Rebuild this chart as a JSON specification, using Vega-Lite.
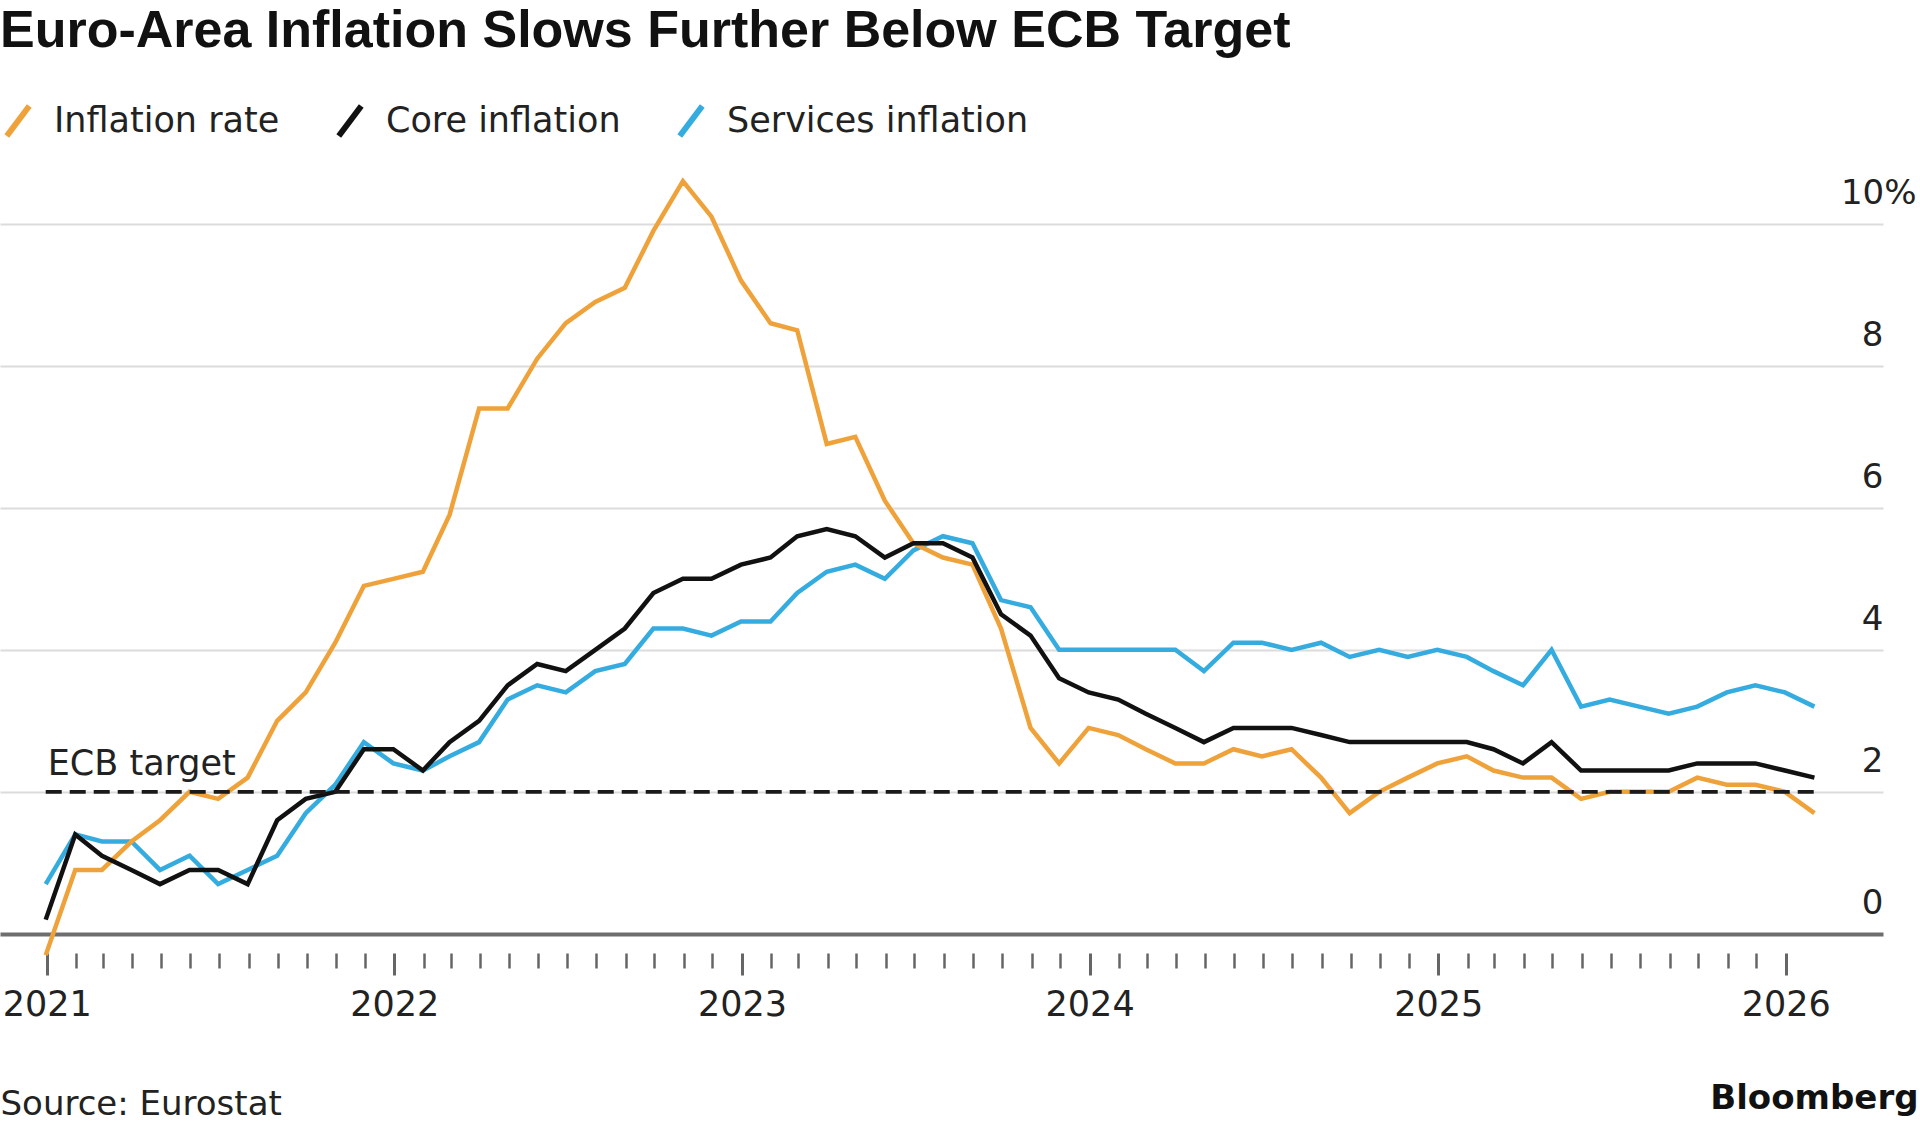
{
  "$schema": "https://vega.github.io/schema/vega-lite/v6.json",
  "width": 1883,
  "height": 786,
  "autosize": {"type": "none"},
  "padding": {"left": 0, "top": 167, "right": 37, "bottom": 173},
  "background": "white",
  "title": {
    "text": "Euro-Area Inflation Slows Further Below ECB Target",
    "anchor": "start",
    "frame": "group",
    "font": "Liberation Sans",
    "fontWeight": "bold",
    "fontSize": 52,
    "color": "#111111",
    "baseline": "alphabetic",
    "offset": 10,
    "dy": 6
  },
  "datasets": {
    "inflation": [
      {"date": "2020-12-31", "headline": -0.3, "core": 0.2, "services": 0.7},
      {"date": "2021-01-31", "headline": 0.9, "core": 1.4, "services": 1.4},
      {"date": "2021-02-28", "headline": 0.9, "core": 1.1, "services": 1.3},
      {"date": "2021-03-31", "headline": 1.3, "core": 0.9, "services": 1.3},
      {"date": "2021-04-30", "headline": 1.6, "core": 0.7, "services": 0.9},
      {"date": "2021-05-31", "headline": 2.0, "core": 0.9, "services": 1.1},
      {"date": "2021-06-30", "headline": 1.9, "core": 0.9, "services": 0.7},
      {"date": "2021-07-31", "headline": 2.2, "core": 0.7, "services": 0.9},
      {"date": "2021-08-31", "headline": 3.0, "core": 1.6, "services": 1.1},
      {"date": "2021-09-30", "headline": 3.4, "core": 1.9, "services": 1.7},
      {"date": "2021-10-31", "headline": 4.1, "core": 2.0, "services": 2.1},
      {"date": "2021-11-30", "headline": 4.9, "core": 2.6, "services": 2.7},
      {"date": "2021-12-31", "headline": 5.0, "core": 2.6, "services": 2.4},
      {"date": "2022-01-31", "headline": 5.1, "core": 2.3, "services": 2.3},
      {"date": "2022-02-28", "headline": 5.9, "core": 2.7, "services": 2.5},
      {"date": "2022-03-31", "headline": 7.4, "core": 3.0, "services": 2.7},
      {"date": "2022-04-30", "headline": 7.4, "core": 3.5, "services": 3.3},
      {"date": "2022-05-31", "headline": 8.1, "core": 3.8, "services": 3.5},
      {"date": "2022-06-30", "headline": 8.6, "core": 3.7, "services": 3.4},
      {"date": "2022-07-31", "headline": 8.9, "core": 4.0, "services": 3.7},
      {"date": "2022-08-31", "headline": 9.1, "core": 4.3, "services": 3.8},
      {"date": "2022-09-30", "headline": 9.9, "core": 4.8, "services": 4.3},
      {"date": "2022-10-31", "headline": 10.6, "core": 5.0, "services": 4.3},
      {"date": "2022-11-30", "headline": 10.1, "core": 5.0, "services": 4.2},
      {"date": "2022-12-31", "headline": 9.2, "core": 5.2, "services": 4.4},
      {"date": "2023-01-31", "headline": 8.6, "core": 5.3, "services": 4.4},
      {"date": "2023-02-28", "headline": 8.5, "core": 5.6, "services": 4.8},
      {"date": "2023-03-31", "headline": 6.9, "core": 5.7, "services": 5.1},
      {"date": "2023-04-30", "headline": 7.0, "core": 5.6, "services": 5.2},
      {"date": "2023-05-31", "headline": 6.1, "core": 5.3, "services": 5.0},
      {"date": "2023-06-30", "headline": 5.5, "core": 5.5, "services": 5.4},
      {"date": "2023-07-31", "headline": 5.3, "core": 5.5, "services": 5.6},
      {"date": "2023-08-31", "headline": 5.2, "core": 5.3, "services": 5.5},
      {"date": "2023-09-30", "headline": 4.3, "core": 4.5, "services": 4.7},
      {"date": "2023-10-31", "headline": 2.9, "core": 4.2, "services": 4.6},
      {"date": "2023-11-30", "headline": 2.4, "core": 3.6, "services": 4.0},
      {"date": "2023-12-31", "headline": 2.9, "core": 3.4, "services": 4.0},
      {"date": "2024-01-31", "headline": 2.8, "core": 3.3, "services": 4.0},
      {"date": "2024-02-29", "headline": 2.6, "core": 3.1, "services": 4.0},
      {"date": "2024-03-31", "headline": 2.4, "core": 2.9, "services": 4.0},
      {"date": "2024-04-30", "headline": 2.4, "core": 2.7, "services": 3.7},
      {"date": "2024-05-31", "headline": 2.6, "core": 2.9, "services": 4.1},
      {"date": "2024-06-30", "headline": 2.5, "core": 2.9, "services": 4.1},
      {"date": "2024-07-31", "headline": 2.6, "core": 2.9, "services": 4.0},
      {"date": "2024-08-31", "headline": 2.2, "core": 2.8, "services": 4.1},
      {"date": "2024-09-30", "headline": 1.7, "core": 2.7, "services": 3.9},
      {"date": "2024-10-31", "headline": 2.0, "core": 2.7, "services": 4.0},
      {"date": "2024-11-30", "headline": 2.2, "core": 2.7, "services": 3.9},
      {"date": "2024-12-31", "headline": 2.4, "core": 2.7, "services": 4.0},
      {"date": "2025-01-31", "headline": 2.5, "core": 2.7, "services": 3.9},
      {"date": "2025-02-28", "headline": 2.3, "core": 2.6, "services": 3.7},
      {"date": "2025-03-31", "headline": 2.2, "core": 2.4, "services": 3.5},
      {"date": "2025-04-30", "headline": 2.2, "core": 2.7, "services": 4.0},
      {"date": "2025-05-31", "headline": 1.9, "core": 2.3, "services": 3.2},
      {"date": "2025-06-30", "headline": 2.0, "core": 2.3, "services": 3.3},
      {"date": "2025-07-31", "headline": 2.0, "core": 2.3, "services": 3.2},
      {"date": "2025-08-31", "headline": 2.0, "core": 2.3, "services": 3.1},
      {"date": "2025-09-30", "headline": 2.2, "core": 2.4, "services": 3.2},
      {"date": "2025-10-31", "headline": 2.1, "core": 2.4, "services": 3.4},
      {"date": "2025-11-30", "headline": 2.1, "core": 2.4, "services": 3.5},
      {"date": "2025-12-31", "headline": 2.0, "core": 2.3, "services": 3.4},
      {"date": "2026-01-31", "headline": 1.7, "core": 2.2, "services": 3.2}
    ],
    "target": [
      {"label": "ECB target", "value": 2, "start": "2020-12-31", "end": "2026-01-31"}
    ]
  },
  "layer": [
    {
      "data": {"name": "inflation"},
      "transform": [{"fold": ["services", "headline", "core"], "as": ["series", "value"]}],
      "mark": {"type": "line", "strokeWidth": 4.5},
      "encoding": {
        "x": {
          "field": "date",
          "type": "temporal",
          "scale": {
            "type": "utc",
            "nice": false,
            "domain": [
              {"year": 2020, "month": 11, "date": 13, "utc": true},
              {"year": 2026, "month": 4, "date": 13, "utc": true}
            ]
          },
          "axis": {
            "title": "Source: Eurostat",
            "titleFont": "DejaVu Sans",
            "titleFontSize": 34,
            "titleFontWeight": "normal",
            "titleColor": "#222222",
            "titleAnchor": "start",
            "titleAlign": "left",
            "titleBaseline": "alphabetic",
            "titleX": 0,
            "titleY": 161,
            "domain": false,
            "grid": false,
            "tickCount": {"interval": "month", "step": 1},
            "tickColor": "#666666",
            "tickSize": {"condition": {"test": "utcmonth(datum.value) == 0", "value": 22}, "value": 15},
            "tickWidth": {"condition": {"test": "utcmonth(datum.value) == 0", "value": 3}, "value": 2.5},
            "tickOpacity": {"condition": {"test": "datum.value < utc(2021,0,1) || datum.value > utc(2026,0,2)", "value": 0}, "value": 1},
            "labelExpr": "utcmonth(datum.value) == 0 ? utcFormat(datum.value, '%Y') : ''",
            "labelFont": "DejaVu Sans",
            "labelFontSize": 35,
            "labelColor": "#222222",
            "labelPadding": 12,
            "labelBaseline": "top",
            "labelOverlap": false,
            "labelFlush": false,
            "labelBound": false
          }
        },
        "y": {
          "field": "value",
          "type": "quantitative",
          "scale": {"domain": [-0.27, 10.8], "nice": false, "zero": false},
          "axis": {
            "orient": "right",
            "title": "Bloomberg",
            "titleFont": "DejaVu Sans",
            "titleFontWeight": "bold",
            "titleFontSize": 34,
            "titleColor": "#111111",
            "titleAngle": 0,
            "titleAlign": "right",
            "titleBaseline": "alphabetic",
            "titleX": 35,
            "titleY": 941,
            "values": [0, 2, 4, 6, 8, 10],
            "domain": false,
            "ticks": false,
            "tickSize": 0,
            "grid": true,
            "gridColor": {"condition": {"test": "datum.value == 0", "value": "#6e6e6e"}, "value": "#dcdcdc"},
            "gridWidth": {"condition": {"test": "datum.value == 0", "value": 4}, "value": 2},
            "labelExpr": "datum.value == 10 ? '10%' : format(datum.value, 'd')",
            "labelFont": "DejaVu Sans",
            "labelFontSize": 34,
            "labelColor": "#222222",
            "labelAlign": "right",
            "labelBaseline": "alphabetic",
            "labelOffset": -20,
            "labelPadding": {"condition": {"test": "datum.value == 10", "value": 33}, "value": 0}
          }
        },
        "color": {
          "field": "series",
          "type": "nominal",
          "scale": {"domain": ["headline", "core", "services"], "range": ["#F0A23A", "#111111", "#35ACE0"]},
          "legend": {
            "orient": "none",
            "legendX": 0,
            "legendY": -64,
            "direction": "horizontal",
            "title": null,
            "symbolType": "M-0.75,1L0.75,-1",
            "symbolSize": 900,
            "symbolStrokeWidth": 6,
            "labelFont": "DejaVu Sans",
            "labelFontSize": 35,
            "labelColor": "#222222",
            "labelOffset": 18,
            "labelLimit": 600,
            "columnPadding": 46,
            "labelExpr": "{'headline': 'Inflation rate', 'core': 'Core inflation', 'services': 'Services inflation'}[datum.label]"
          }
        }
      }
    },
    {
      "data": {"name": "target"},
      "mark": {"type": "rule", "strokeDash": [16, 8], "strokeWidth": 3.8, "color": "#1a1a1a"},
      "encoding": {
        "x": {"field": "start", "type": "temporal"},
        "x2": {"field": "end"},
        "y": {"field": "value", "type": "quantitative"}
      }
    },
    {
      "data": {"name": "target"},
      "mark": {"type": "text", "align": "left", "baseline": "alphabetic", "dx": 2, "dy": -17, "font": "DejaVu Sans", "fontSize": 35, "color": "#222222"},
      "encoding": {
        "x": {"field": "start", "type": "temporal"},
        "y": {"field": "value", "type": "quantitative"},
        "text": {"field": "label"}
      }
    }
  ],
  "config": {
    "view": {"stroke": null},
    "font": "DejaVu Sans"
  }
}
